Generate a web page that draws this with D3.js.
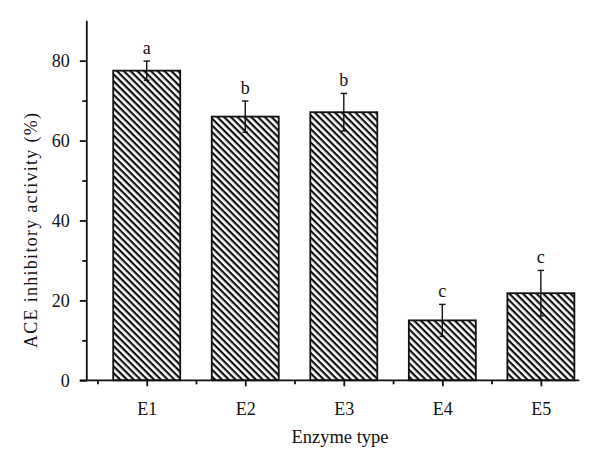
<!DOCTYPE html>
<html>
<head>
<meta charset="utf-8">
<script src="https://cdn.jsdelivr.net/npm/d3@7"></script>
<style>
  body { margin: 0; background: #fff; }
  text { font-family: "Liberation Serif", "DejaVu Serif", serif; fill: #111; }
</style>
</head>
<body>
<div id="chart"></div>
<script>
var categories = ["E1", "E2", "E3", "E4", "E5"];
var values = [77.5, 66.0, 67.1, 15.0, 21.8];
var errors = [2.4, 3.9, 4.7, 4.0, 5.7];
var letters = ["a", "b", "b", "c", "c"];
var yTicks = [0, 20, 40, 60, 80];
var yMinorTicks = [10, 30, 50, 70];

var W = 600, H = 466;

var svg = d3.select("#chart")
    .append("svg")
    .attr("width", W)
    .attr("height", H);

// hatch pattern (\\\ stripes)
var defs = svg.append("defs");
var pat = defs.append("pattern")
    .attr("id", "hatch")
    .attr("patternUnits", "userSpaceOnUse")
    .attr("width", 4.8)
    .attr("height", 4.8)
    .attr("patternTransform", "rotate(45)");
pat.append("rect").attr("width", 4.8).attr("height", 4.8).attr("fill", "#fff");
pat.append("rect").attr("width", 4.8).attr("height", 2.2).attr("fill", "#111");

// x is linear over category index (1..5), y linear in %
var x = d3.scaleLinear().domain([0.392, 5.39]).range([86.8, 579.3]);
var y = d3.scaleLinear().domain([0, 90]).range([380.3, 20.7]);
var barW = 67;

// bars
svg.selectAll(".bar")
    .data(values)
    .enter()
    .append("rect")
    .attr("class", "bar")
    .attr("x", function (d, i) { return x(i + 1) - barW / 2; })
    .attr("y", function (d) { return y(d); })
    .attr("width", barW)
    .attr("height", function (d) { return y(0) - y(d); })
    .attr("fill", "url(#hatch)")
    .attr("stroke", "#111")
    .attr("stroke-width", 1.8);

// error bars
var eb = svg.selectAll(".err")
    .data(values)
    .enter()
    .append("g")
    .attr("class", "err")
    .attr("stroke", "#111")
    .attr("stroke-width", 1.4);
eb.append("line")
    .attr("x1", function (d, i) { return x(i + 1); })
    .attr("x2", function (d, i) { return x(i + 1); })
    .attr("y1", function (d, i) { return y(d + errors[i]); })
    .attr("y2", function (d, i) { return y(d - errors[i]); });
eb.append("line")
    .attr("x1", function (d, i) { return x(i + 1) - 3.2; })
    .attr("x2", function (d, i) { return x(i + 1) + 3.2; })
    .attr("y1", function (d, i) { return y(d + errors[i]); })
    .attr("y2", function (d, i) { return y(d + errors[i]); });
eb.append("line")
    .attr("x1", function (d, i) { return x(i + 1) - 2.8; })
    .attr("x2", function (d, i) { return x(i + 1) + 2.8; })
    .attr("y1", function (d, i) { return y(d - errors[i]); })
    .attr("y2", function (d, i) { return y(d - errors[i]); });

// significance letters
svg.selectAll(".letter")
    .data(letters)
    .enter()
    .append("text")
    .attr("class", "letter")
    .attr("x", function (d, i) { return x(i + 1); })
    .attr("y", function (d, i) { return y(values[i] + errors[i]) - 7; })
    .attr("text-anchor", "middle")
    .style("font-size", "18px")
    .text(function (d) { return d; });

// y axis
var yAxis = svg.append("g")
    .attr("transform", "translate(" + x.range()[0] + ",0)")
    .call(d3.axisLeft(y).tickValues(yTicks).tickSize(7).tickPadding(10).tickSizeOuter(0));
svg.append("g")
    .attr("transform", "translate(" + x.range()[0] + ",0)")
    .call(d3.axisLeft(y).tickValues(yMinorTicks).tickSize(4.5).tickFormat("").tickSizeOuter(0))
    .select(".domain").remove();
yAxis.select(".domain").attr("d", "M0," + y(90) + "V" + y(0));

// x axis
var xAxis = svg.append("g")
    .attr("transform", "translate(0," + y(0) + ")")
    .call(d3.axisBottom(x).tickValues([1, 2, 3, 4, 5])
        .tickFormat(function (d) { return categories[d - 1]; })
        .tickSize(6).tickPadding(16).tickSizeOuter(0));
svg.append("g")
    .attr("transform", "translate(0," + y(0) + ")")
    .call(d3.axisBottom(x).tickValues([0.5, 1.5, 2.5, 3.5, 4.5]).tickSize(4).tickFormat("").tickSizeOuter(0))
    .select(".domain").remove();
xAxis.select(".domain").attr("d", "M" + (x.range()[0] - 7) + ",0H" + x.range()[1]);

svg.selectAll(".domain, .tick line")
    .attr("stroke", "#111")
    .attr("stroke-width", 1.8);
svg.selectAll(".tick text")
    .style("font-size", "18px")
    .style("font-family", "'Liberation Serif', serif")
    .attr("fill", "#111");

// axis titles
svg.append("text")
    .attr("x", 340)
    .attr("y", 443)
    .attr("text-anchor", "middle")
    .style("font-size", "18.5px")
    .text("Enzyme type");

svg.append("text")
    .attr("transform", "translate(37," + 230.5 + ") rotate(-90)")
    .attr("text-anchor", "middle")
    .attr("textLength", 235)
    .attr("lengthAdjust", "spacing")
    .style("font-size", "18px")
    .text("ACE inhibitory activity (%)");
</script>
</body>
</html>
